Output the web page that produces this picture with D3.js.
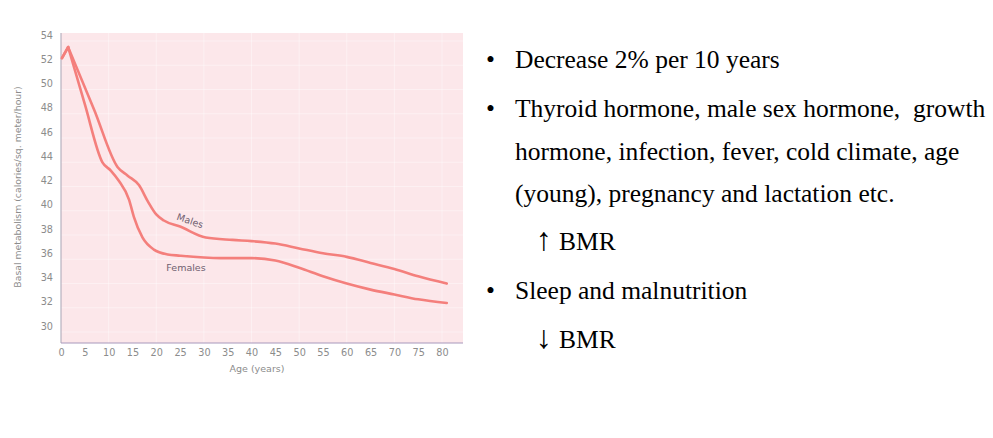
<!DOCTYPE html>
<html>
<head>
<meta charset="utf-8">
<script src="https://cdn.jsdelivr.net/npm/d3@7"></script>
<style>
  html, body { margin: 0; padding: 0; background: #fff; }
  svg { display: block; }
</style>
</head>
<body>
<svg width="993" height="438"></svg>
<script>
// --- data ---
const xTicks = [0, 5, 10, 15, 20, 25, 30, 35, 40, 45, 50, 55, 60, 65, 70, 75, 80];
const yTicks = [30, 32, 34, 36, 38, 40, 42, 44, 46, 48, 50, 52, 54];

const males = [
	[0.2, 52.1], [1.5, 53], [7, 47.8], [11.9, 43.1], [14, 42.4], [16.4, 41.6],
	[18.2, 40.3], [20, 39.2], [21.6, 38.7], [25, 38.2], [30.4, 37.3], [36, 37.1],
	[40, 37.0], [45, 36.8], [50, 36.4], [55, 36.0], [60, 35.7], [65, 35.2],
	[70, 34.7], [75, 34.1], [81, 33.5]
];
const females = [
	[0.2, 52.1], [1.5, 53], [5, 48.3], [8.7, 43.5], [10.5, 42.8], [12.1, 42],
	[14.3, 40.4], [15.3, 39], [17.1, 37.3], [19.5, 36.3], [22.4, 35.9], [25, 35.8],
	[33.5, 35.6], [40, 35.6], [45, 35.4], [50, 34.8], [55, 34.1], [60, 33.5],
	[65, 33.0], [70, 32.6], [75, 32.2], [81, 31.9]
];

const bullets = [
	{ bullet: true, text: "Decrease 2% per 10 years" },
	{ bullet: true, text: "Thyroid hormone, male sex hormone,  growth" },
	{ bullet: false, text: "hormone, infection, fever, cold climate, age" },
	{ bullet: false, text: "(young), pregnancy and lactation etc." },
	{ arrow: "\u2191", text: "BMR" },
	{ bullet: true, text: "Sleep and malnutrition" },
	{ arrow: "\u2193", text: "BMR" }
];
const lineBaselines = [68, 117, 160, 202, 250, 299, 348];

// -------------------------
// Chart
// -------------------------
const svg = d3.select("svg");
const LINE_COLOR = "#f47f7c";
const TEXT_COLOR = "#8c8c8c";
const CHART_FONT = "DejaVu Sans, Verdana, sans-serif";

const x = d3.scaleLinear().domain([0, 80]).range([61, 442]);
const y = d3.scaleLinear().domain([30, 54]).range([326, 35]);

const plotLeft = 61, plotRight = 463, plotTop = 33, plotBottom = 343;

// pink graph-paper background
svg.append("rect")
	.attr("x", plotLeft)
	.attr("y", plotTop)
	.attr("width", plotRight - plotLeft)
	.attr("height", plotBottom - plotTop)
	.attr("fill", "#fce7ea");

const grid = svg.append("g").attr("stroke", "#fff").attr("stroke-opacity", 0.4);
grid.selectAll("line.h")
	.data(yTicks)
	.join("line")
	.attr("x1", plotLeft)
	.attr("x2", plotRight)
	.attr("y1", (d) => y(d) + 6)
	.attr("y2", (d) => y(d) + 6);
grid.selectAll("line.v")
	.data(xTicks.filter((d) => d % 10 === 0))
	.join("line")
	.attr("x1", (d) => x(d))
	.attr("x2", (d) => x(d))
	.attr("y1", plotTop)
	.attr("y2", plotBottom);

// axes
const yAxis = svg.append("g")
	.attr("transform", `translate(${plotLeft},0)`)
	.call(d3.axisLeft(y).tickValues(yTicks).tickSize(0).tickPadding(8));
yAxis.select(".domain").attr("d", `M0,${plotTop}V${plotBottom}`).attr("stroke", "#a7a2b2");

const xAxis = svg.append("g")
	.attr("transform", `translate(0,${plotBottom})`)
	.call(d3.axisBottom(x).tickValues(xTicks).tickSize(0).tickPadding(6));
xAxis.select(".domain").attr("d", `M${plotLeft},0H${plotRight}`).attr("stroke", "#a898bc");

svg.selectAll(".tick text")
	.attr("fill", TEXT_COLOR)
	.attr("font-family", CHART_FONT)
	.attr("font-size", 9.7);

svg.append("text")
	.attr("transform", "translate(21,187) rotate(-90)")
	.attr("text-anchor", "middle")
	.attr("fill", TEXT_COLOR)
	.attr("font-family", CHART_FONT)
	.attr("font-size", 9.3)
	.text("Basal metabolism (calories/sq. meter/hour)");

svg.append("text")
	.attr("x", 257)
	.attr("y", 372)
	.attr("text-anchor", "middle")
	.attr("fill", TEXT_COLOR)
	.attr("font-family", CHART_FONT)
	.attr("font-size", 9.5)
	.text("Age (years)");

// curves: sharp peak at the start, smooth afterwards
const straight = d3.line()
	.x((d) => x(d[0]))
	.y((d) => y(d[1]));
const smooth = d3.line()
	.x((d) => x(d[0]))
	.y((d) => y(d[1]))
	.curve(d3.curveMonotoneX);

[males, females].forEach((series) => {
	const g = svg.append("g")
		.attr("fill", "none")
		.attr("stroke", LINE_COLOR)
		.attr("stroke-width", 2.6)
		.attr("stroke-linejoin", "round")
		.attr("stroke-linecap", "round");
	g.append("path").attr("d", straight(series.slice(0, 2)));
	g.append("path").attr("d", smooth(series.slice(1)));
});

svg.append("text")
	.attr("transform", "translate(189,224) rotate(19)")
	.attr("text-anchor", "middle")
	.attr("fill", "#6f5f70")
	.attr("font-family", CHART_FONT)
	.attr("font-size", 9.5)
	.text("Males");

svg.append("text")
	.attr("x", 186)
	.attr("y", 271)
	.attr("text-anchor", "middle")
	.attr("fill", "#6f5f70")
	.attr("font-family", CHART_FONT)
	.attr("font-size", 9.5)
	.text("Females");

// -------------------------
// Bullet text on the right
// -------------------------
const notes = svg.append("g")
	.attr("font-family", "Liberation Serif, Times New Roman, serif")
	.attr("font-size", 25.5)
	.attr("fill", "#000");

bullets.forEach((b, i) => {
	const by = lineBaselines[i];
	if (b.bullet) {
		notes.append("text").attr("x", 486).attr("y", by).text("\u2022");
	}
	if (b.arrow) {
		notes.append("text").attr("x", 536).attr("y", by).attr("font-size", 32).text(b.arrow);
		notes.append("text").attr("x", 559).attr("y", by).text(b.text);
	} else {
		notes.append("text").attr("x", 515).attr("y", by).attr("xml:space", "preserve").text(b.text);
	}
});
</script>
</body>
</html>
